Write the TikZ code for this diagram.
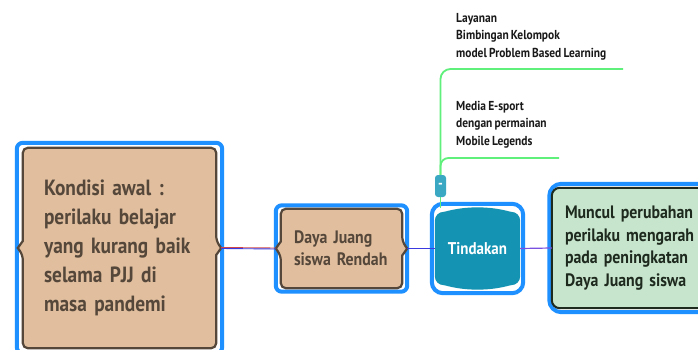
\documentclass[tikz,border=0pt]{standalone}
\usepackage{fontspec}
\setmainfont{PT Sans}[FakeStretch=0.88, WordSpace=0.75]
\usetikzlibrary{calc,backgrounds}
\definecolor{frameblue}{HTML}{1E90FF}
\definecolor{brownfill}{HTML}{E0BE9E}
\definecolor{browndark}{HTML}{55473A}
\definecolor{tealfill}{HTML}{1593B3}
\definecolor{btnteal}{HTML}{3AA8C2}
\definecolor{greenfill}{HTML}{C6E5CC}
\definecolor{greendark}{HTML}{1F2A1F}
\definecolor{gline}{HTML}{5EF07A}
\definecolor{linkred}{HTML}{D04848}
\definecolor{linkblue}{HTML}{3A3AE0}
\definecolor{linkpurple}{HTML}{7A50E0}
\newcommand\blueframe[4]{\draw[frame, rounded corners=#4] ($(#1.north west)+(-#2,-#3)$) rectangle ($(#1.south east)+(#2,#3)$);}
\newcommand\bracebox[1]{\path[bracestyle] (#1.north) [rounded corners=5] -- (#1.north east) -- ($(#1.east)+(0,-7)$) [sharp corners] -- ($(#1.east)+(5,0)$) -- ($(#1.east)+(0,7)$) [rounded corners=5] -- (#1.south east) -- (#1.south west) -- ($(#1.west)+(0,7)$) [sharp corners] -- ($(#1.west)+(-5,0)$) -- ($(#1.west)+(0,-7)$) [rounded corners=5] -- (#1.north west) -- cycle;}
\begin{document}
\begin{tikzpicture}[x=1pt,y=-1pt,
  frame/.style={draw=frameblue, line width=4pt},
  bracestyle/.style={fill=brownfill, draw=browndark, line width=2.2pt},
  boxnode/.style={inner ysep=0pt, align=left, font=\bfseries, text=browndark},
  greenline/.style={draw=gline, line width=1.8pt},
  smalltxt/.style={inner sep=0pt, align=left, text=black!90, font=\bfseries\fontsize{13}{17.5}\selectfont}]
\useasboundingbox (0,0) rectangle (698,350);

% nodes
\node[boxnode, minimum height=200pt, inner xsep=21pt, text width=151pt,
      font=\bfseries\fontsize{22}{29}\selectfont] (n1) at (119.5,248)
  {Kondisi awal :\\perilaku belajar\\yang kurang baik\\selama PJJ di\\masa pandemi};
\node[boxnode, minimum height=79pt, inner xsep=13pt, text width=95pt,
      font=\bfseries\fontsize{18}{22}\selectfont] (n2) at (341.5,248.5)
  {Daya Juang\\siswa Rendah};
\node[minimum width=85pt, minimum height=81pt, inner sep=0pt, text=white,
      font=\bfseries\fontsize{17}{20}\selectfont] (t) at (477.5,248.5) {Tindakan};
\node[fill=btnteal, rounded corners=3pt, minimum width=11pt, minimum height=22pt, inner sep=0pt,
      text=white, font=\bfseries\fontsize{15}{15}\selectfont] (btn) at (440.5,186) {-};
\node[boxnode, minimum height=120pt, inner xsep=13pt, text width=142pt, text=greendark,
      font=\bfseries\fontsize{18}{22.5}\selectfont] (n4) at (636,248)
  {Muncul perubahan\\perilaku mengarah\\pada peningkatan\\Daya Juang siswa};
\node[smalltxt, anchor=north west] (lab1) at (456,12.9)
  {Layanan\\Bimbingan Kelompok\\model Problem Based Learning};
\node[smalltxt, anchor=north west] (lab2) at (456,100.7)
  {Media E-sport\\dengan permainan\\Mobile Legends};
\coordinate (g1) at (623,69);
\coordinate (g2) at (559,158);

\begin{scope}[on background layer]
  \fill[white] (0,0) rectangle (698,350);
  % frames
  \blueframe{n1}{6}{5}{6}
  \blueframe{n2}{5}{3.5}{6}
  \blueframe{t}{3}{4}{11}
  \blueframe{n4}{2.5}{4}{12}
  % shapes
  \bracebox{n1}
  \bracebox{n2}
  \fill[tealfill, rounded corners=9] ($(t.north west)+(0,4)$) rectangle ($(t.south east)+(0,-4)$);
  \fill[tealfill] ($(t.north west)+(9,4.2)$) .. controls ($(t.north west)+(30,-2)$) and ($(t.north east)+(-30,-2)$) .. ($(t.north east)+(-9,4.2)$) -- cycle;
  \fill[tealfill] ($(t.south west)+(9,-4.2)$) .. controls ($(t.south west)+(30,2)$) and ($(t.south east)+(-30,2)$) .. ($(t.south east)+(-9,-4.2)$) -- cycle;
  \draw[fill=greenfill, draw=greendark, line width=2pt, rounded corners=8] (n4.north west) rectangle (n4.south east);
  % connectors
  \draw[linkred, line width=0.9pt, transform canvas={yshift=0.5pt}] ($(n1.east)+(5,0)$) -- ($(n2.west)+(-5,0)$);
  \draw[linkblue, line width=0.9pt, transform canvas={yshift=-0.5pt}] ($(n1.east)+(5,0)$) -- ($(n2.west)+(-5,0)$);
  \draw[linkblue, line width=1.2pt] ($(n2.east)+(5,0)$) -- (t.west);
  \draw[linkpurple, line width=1.2pt] (t.east) -- (n4.west);
  % green branch lines
  \draw[greenline, rounded corners=10] (btn.north) |- (g1);
  \draw[greenline, rounded corners=8] (btn.north) |- (g2);
  \draw[greenline] (btn.south) -- (btn.south |- t.north);
\end{scope}
\end{tikzpicture}
\end{document}
